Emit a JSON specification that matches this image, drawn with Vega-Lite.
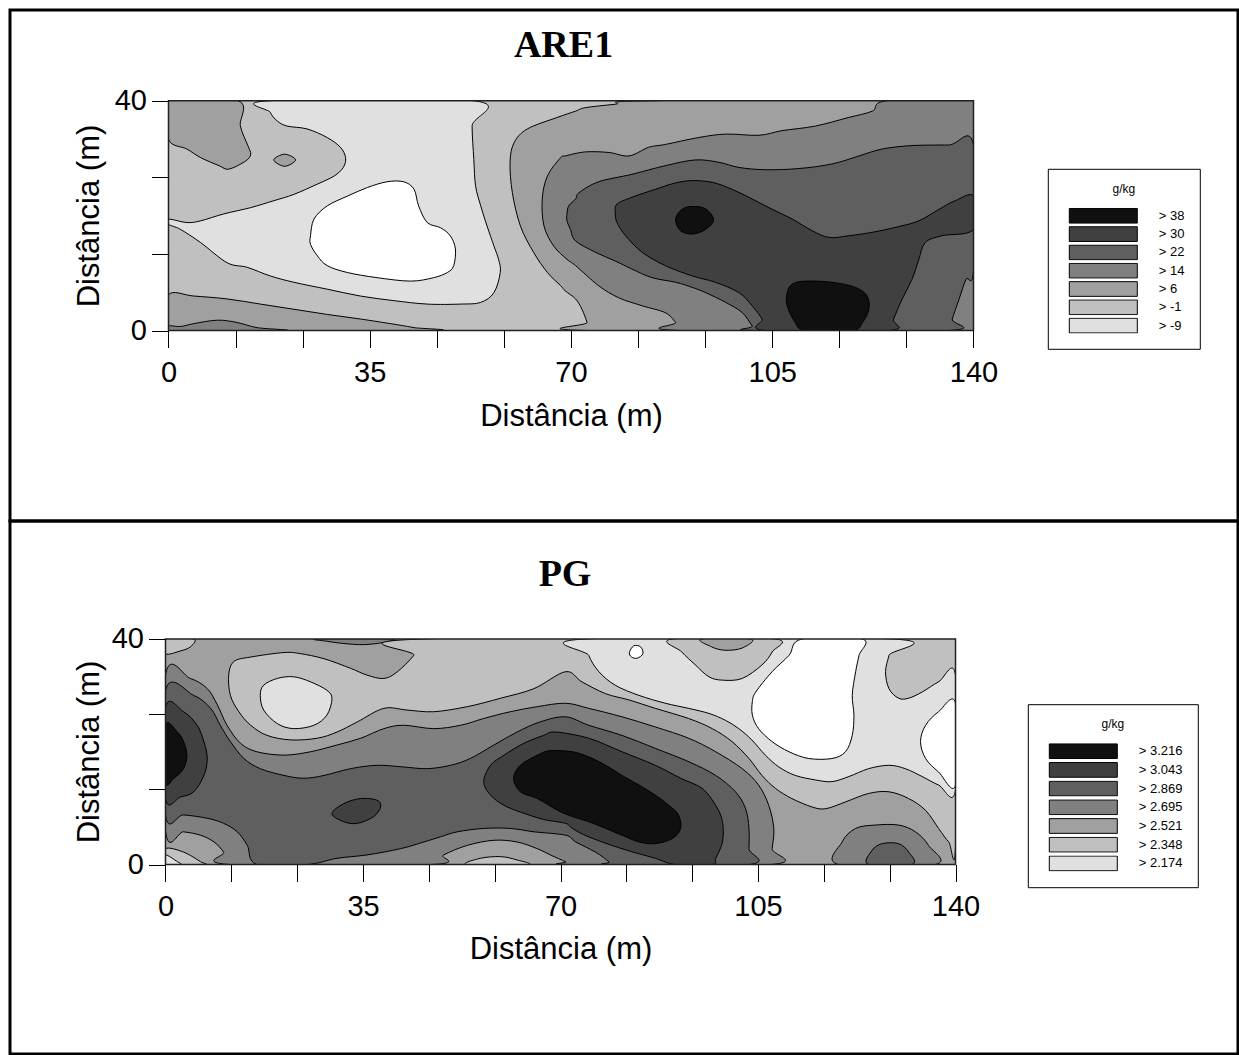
{
"$schema":"https://vega.github.io/schema/vega-lite/v6.json",
"background":"white",
"padding":{"left":8,"top":8,"right":0,"bottom":0},
"spacing":0,
"bounds":"flush",
"config":{"font":"Liberation Sans","view":{"stroke":"black","strokeWidth":3},"axis":{"zindex":1}},
"resolve":{"scale":{"x":"independent","y":"independent","fill":"independent"},"legend":{"fill":"independent"},"axis":{"x":"independent","y":"independent"}},
"datasets":{
"alev":[{"p":"a01","l":"> 6"},{"p":"a02","l":"> 6"},{"p":"a03","l":"> -9"},{"p":"a04","l":"> 6"},{"p":"a05","l":"> 14"},{"p":"a06","l":"> 22"},{"p":"a07","l":"> 30"},{"p":"a08","l":"> 38"},{"p":"a09","l":"> 38"},{"p":"a10","l":"> 6"},{"p":"a11","l":"> 14"},{"p":"a12","l":"w"}],
"blev":[{"p":"b01","l":"> 2.348"},{"p":"b02","l":"> 2.695"},{"p":"b03","l":"> 2.348"},{"p":"b04","l":"> 2.174"},{"p":"b05","l":"> 2.174"},{"p":"b06","l":"> 2.348"},{"p":"b07","l":"> 2.521"},{"p":"b08","l":"> 2.695"},{"p":"b09","l":"> 2.869"},{"p":"b10","l":"> 3.043"},{"p":"b11","l":"> 3.216"},{"p":"b12","l":"> 3.043"},{"p":"b13","l":"> 3.043"},{"p":"b14","l":"> 3.216"},{"p":"b15","l":"> 2.695"},{"p":"b16","l":"> 2.869"},{"p":"b17","l":"> 2.348"},{"p":"b18","l":"> 2.174"},{"p":"b19","l":"> 2.348"},{"p":"b20","l":"w"},{"p":"b21","l":"w"},{"p":"b22","l":"w"}],
"are1":[
{"p":"a01","x":0,"y":40},{"p":"a01","x":12.1,"y":40},{"p":"a01","x":12.5,"y":35.6},{"p":"a01","x":13.8,"y":32.2},{"p":"a01","x":14.3,"y":30.7},{"p":"a01","x":13.4,"y":29.5},{"p":"a01","x":10.5,"y":28.1},{"p":"a01","x":8.8,"y":28.7},{"p":"a01","x":5.6,"y":30.1},{"p":"a01","x":3.2,"y":31.6},{"p":"a01","x":0,"y":33.3},
{"p":"a02","x":18.3,"y":29.7},{"p":"a02","x":20.2,"y":30.7},{"p":"a02","x":22.1,"y":29.7},{"p":"a02","x":20.2,"y":28.6},
{"p":"a03","x":17.4,"y":40},{"p":"a03","x":17.7,"y":38.0},{"p":"a03","x":18.9,"y":36.5},{"p":"a03","x":20.6,"y":35.6},{"p":"a03","x":24.1,"y":35.1},{"p":"a03","x":27.6,"y":33.6},{"p":"a03","x":29.9,"y":31.9},{"p":"a03","x":30.8,"y":30.1},{"p":"a03","x":30.4,"y":28.4},{"p":"a03","x":28.8,"y":26.9},{"p":"a03","x":25.9,"y":25.5},{"p":"a03","x":21.8,"y":23.7},{"p":"a03","x":18.3,"y":22.6},{"p":"a03","x":14.3,"y":21.4},{"p":"a03","x":9.6,"y":20.3},{"p":"a03","x":5.6,"y":19.1},{"p":"a03","x":3.2,"y":18.8},{"p":"a03","x":0,"y":19.4},{"p":"a03","x":0,"y":18.5},{"p":"a03","x":2.1,"y":17.6},{"p":"a03","x":5.6,"y":15.3},{"p":"a03","x":10.2,"y":11.8},{"p":"a03","x":13.7,"y":11.0},{"p":"a03","x":17.7,"y":9.5},{"p":"a03","x":21.8,"y":8.4},{"p":"a03","x":27.6,"y":7.2},{"p":"a03","x":33.4,"y":6.0},{"p":"a03","x":39.2,"y":5.2},{"p":"a03","x":45.0,"y":4.6},{"p":"a03","x":50.8,"y":4.6},{"p":"a03","x":54.3,"y":4.9},{"p":"a03","x":56.6,"y":6.6},{"p":"a03","x":57.7,"y":10.1},{"p":"a03","x":57.4,"y":12.4},{"p":"a03","x":56.6,"y":14.7},{"p":"a03","x":55.4,"y":18.2},{"p":"a03","x":54.3,"y":21.7},{"p":"a03","x":53.4,"y":25.2},{"p":"a03","x":53.1,"y":29.8},{"p":"a03","x":52.8,"y":35.6},{"p":"a03","x":53.1,"y":40},
{"p":"a04","x":84.1,"y":40},{"p":"a04","x":140,"y":40},{"p":"a04","x":140,"y":0},{"p":"a04","x":73.1,"y":0},{"p":"a04","x":72.8,"y":1.4},{"p":"a04","x":71.9,"y":3.7},{"p":"a04","x":70.8,"y":5.5},{"p":"a04","x":69.0,"y":6.9},{"p":"a04","x":68.2,"y":7.8},{"p":"a04","x":65.9,"y":10.1},{"p":"a04","x":63.5,"y":13.6},{"p":"a04","x":61.2,"y":18.2},{"p":"a04","x":59.8,"y":24.0},{"p":"a04","x":59.4,"y":29.3},{"p":"a04","x":60.1,"y":32.7},{"p":"a04","x":62.4,"y":35.1},{"p":"a04","x":67.6,"y":37.1},{"p":"a04","x":70.8,"y":38.2},{"p":"a04","x":72.5,"y":38.8},{"p":"a04","x":77.7,"y":39.4},
{"p":"a05","x":125.0,"y":40},{"p":"a05","x":122.4,"y":38.2},{"p":"a05","x":118.3,"y":37.1},{"p":"a05","x":112.5,"y":35.6},{"p":"a05","x":106.7,"y":34.8},{"p":"a05","x":102.7,"y":34.0},{"p":"a05","x":96.9,"y":34.2},{"p":"a05","x":92.2,"y":33.6},{"p":"a05","x":86.4,"y":32.4},{"p":"a05","x":83.5,"y":31.9},{"p":"a05","x":80.1,"y":30.4},{"p":"a05","x":76.6,"y":31.0},{"p":"a05","x":72.5,"y":31.1},{"p":"a05","x":69.0,"y":30.4},{"p":"a05","x":68.2,"y":30.1},{"p":"a05","x":65.9,"y":26.9},{"p":"a05","x":65.0,"y":22.9},{"p":"a05","x":65.3,"y":18.2},{"p":"a05","x":67.0,"y":14.7},{"p":"a05","x":69.3,"y":12.4},{"p":"a05","x":70.8,"y":11.3},{"p":"a05","x":74.8,"y":7.8},{"p":"a05","x":78.3,"y":5.7},{"p":"a05","x":82.4,"y":4.3},{"p":"a05","x":86.4,"y":3.1},{"p":"a05","x":88.2,"y":1.4},{"p":"a05","x":89.3,"y":0},{"p":"a05","x":140,"y":0},{"p":"a05","x":140,"y":40},
{"p":"a06","x":69.3,"y":20.3},{"p":"a06","x":69.6,"y":21.7},{"p":"a06","x":70.8,"y":22.9},{"p":"a06","x":71.4,"y":24.0},{"p":"a06","x":74.8,"y":25.9},{"p":"a06","x":80.6,"y":27.2},{"p":"a06","x":86.4,"y":28.7},{"p":"a06","x":91.6,"y":29.7},{"p":"a06","x":95.7,"y":29.3},{"p":"a06","x":99.2,"y":28.4},{"p":"a06","x":103.8,"y":28.0},{"p":"a06","x":109.6,"y":28.2},{"p":"a06","x":115.4,"y":29.0},{"p":"a06","x":120.1,"y":30.4},{"p":"a06","x":124.1,"y":31.6},{"p":"a06","x":129.3,"y":32.2},{"p":"a06","x":135.7,"y":32.3},{"p":"a06","x":140,"y":32.3},{"p":"a06","x":140,"y":10.7},{"p":"a06","x":138.7,"y":8.9},{"p":"a06","x":137.5,"y":5.5},{"p":"a06","x":136.3,"y":2.0},{"p":"a06","x":135.7,"y":0},{"p":"a06","x":102.1,"y":0},{"p":"a06","x":101.5,"y":0.8},{"p":"a06","x":99.8,"y":3.1},{"p":"a06","x":96.9,"y":4.9},{"p":"a06","x":93.4,"y":6.6},{"p":"a06","x":91.1,"y":7.5},{"p":"a06","x":88.2,"y":8.4},{"p":"a06","x":84.1,"y":9.2},{"p":"a06","x":80.6,"y":10.7},{"p":"a06","x":77.7,"y":12.1},{"p":"a06","x":74.3,"y":13.6},{"p":"a06","x":70.8,"y":15.6},{"p":"a06","x":69.9,"y":17.6},{"p":"a06","x":69.3,"y":19.1},
{"p":"a07","x":77.7,"y":20.5},{"p":"a07","x":78.0,"y":22.0},{"p":"a07","x":80.6,"y":23.2},{"p":"a07","x":84.7,"y":24.6},{"p":"a07","x":88.2,"y":25.7},{"p":"a07","x":91.1,"y":26.1},{"p":"a07","x":94.6,"y":25.8},{"p":"a07","x":98.0,"y":24.6},{"p":"a07","x":101.5,"y":22.9},{"p":"a07","x":105.0,"y":21.1},{"p":"a07","x":108.5,"y":19.4},{"p":"a07","x":111.9,"y":17.4},{"p":"a07","x":114.9,"y":16.2},{"p":"a07","x":118.3,"y":16.5},{"p":"a07","x":122.4,"y":17.1},{"p":"a07","x":127.0,"y":18.1},{"p":"a07","x":130.5,"y":19.1},{"p":"a07","x":134.0,"y":21.1},{"p":"a07","x":136.8,"y":22.6},{"p":"a07","x":140,"y":23.4},{"p":"a07","x":140,"y":17.6},{"p":"a07","x":134.5,"y":16.5},{"p":"a07","x":131.6,"y":15.3},{"p":"a07","x":130.5,"y":12.4},{"p":"a07","x":129.3,"y":8.9},{"p":"a07","x":127.6,"y":5.5},{"p":"a07","x":126.1,"y":2.0},{"p":"a07","x":125.3,"y":0},{"p":"a07","x":103.8,"y":0},{"p":"a07","x":103.2,"y":2.0},{"p":"a07","x":101.5,"y":4.3},{"p":"a07","x":99.2,"y":6.6},{"p":"a07","x":95.1,"y":8.4},{"p":"a07","x":91.1,"y":9.5},{"p":"a07","x":86.4,"y":11.3},{"p":"a07","x":82.4,"y":13.6},{"p":"a07","x":79.5,"y":16.5},{"p":"a07","x":78.0,"y":18.8},
{"p":"a08","x":88.2,"y":19.4},{"p":"a08","x":89.3,"y":21.1},{"p":"a08","x":91.1,"y":21.6},{"p":"a08","x":93.4,"y":21.2},{"p":"a08","x":94.8,"y":19.3},{"p":"a08","x":93.4,"y":17.6},{"p":"a08","x":91.1,"y":16.8},{"p":"a08","x":89.0,"y":17.4},
{"p":"a09","x":107.6,"y":6.6},{"p":"a09","x":108.5,"y":8.1},{"p":"a09","x":110.8,"y":8.6},{"p":"a09","x":115.4,"y":8.4},{"p":"a09","x":119.5,"y":7.5},{"p":"a09","x":121.5,"y":6.0},{"p":"a09","x":121.8,"y":3.7},{"p":"a09","x":120.7,"y":1.4},{"p":"a09","x":118.9,"y":0},{"p":"a09","x":110.8,"y":0},{"p":"a09","x":109.0,"y":1.4},{"p":"a09","x":107.6,"y":4.3},
{"p":"a10","x":0,"y":0},{"p":"a10","x":0,"y":6.2},{"p":"a10","x":4.4,"y":6.0},{"p":"a10","x":10.2,"y":5.5},{"p":"a10","x":16.0,"y":4.6},{"p":"a10","x":21.8,"y":3.7},{"p":"a10","x":27.6,"y":2.8},{"p":"a10","x":33.4,"y":2.0},{"p":"a10","x":39.2,"y":1.1},{"p":"a10","x":42.7,"y":0.5},{"p":"a10","x":45.0,"y":0},
{"p":"a11","x":0,"y":0},{"p":"a11","x":0,"y":0.8},{"p":"a11","x":2.1,"y":0.7},{"p":"a11","x":4.4,"y":1.2},{"p":"a11","x":8.5,"y":1.8},{"p":"a11","x":11.9,"y":1.4},{"p":"a11","x":15.4,"y":0.5},{"p":"a11","x":20.1,"y":0},
{"p":"a12","x":24.7,"y":16.5},{"p":"a12","x":25.3,"y":19.4},{"p":"a12","x":27.6,"y":21.7},{"p":"a12","x":31.1,"y":23.4},{"p":"a12","x":34.6,"y":24.9},{"p":"a12","x":38.0,"y":25.9},{"p":"a12","x":40.9,"y":25.9},{"p":"a12","x":42.7,"y":24.6},{"p":"a12","x":43.5,"y":21.7},{"p":"a12","x":45.0,"y":18.8},{"p":"a12","x":47.3,"y":17.9},{"p":"a12","x":49.0,"y":16.5},{"p":"a12","x":49.9,"y":14.2},{"p":"a12","x":49.6,"y":11.3},{"p":"a12","x":48.5,"y":10.1},{"p":"a12","x":46.1,"y":9.2},{"p":"a12","x":42.1,"y":8.6},{"p":"a12","x":36.3,"y":9.2},{"p":"a12","x":31.1,"y":10.1},{"p":"a12","x":27.6,"y":11.3},{"p":"a12","x":25.9,"y":13.0},{"p":"a12","x":24.7,"y":15.0}
],
"pg":[
{"p":"b01","x":0,"y":40},{"p":"b01","x":0,"y":37.4},{"p":"b01","x":2.7,"y":37.9},{"p":"b01","x":4.4,"y":38.6},{"p":"b01","x":5.0,"y":40},
{"p":"b02","x":26.9,"y":40},{"p":"b02","x":28.6,"y":39.6},{"p":"b02","x":31.6,"y":39.2},{"p":"b02","x":35.1,"y":39.0},{"p":"b02","x":38.7,"y":39.4},{"p":"b02","x":39.9,"y":40},
{"p":"b03","x":45.8,"y":40},{"p":"b03","x":140,"y":40},{"p":"b03","x":140,"y":3.4},{"p":"b03","x":138.8,"y":4.0},{"p":"b03","x":137.0,"y":6.4},{"p":"b03","x":134.7,"y":9.6},{"p":"b03","x":131.7,"y":11.7},{"p":"b03","x":128.2,"y":12.9},{"p":"b03","x":124.6,"y":12.6},{"p":"b03","x":120.5,"y":11.1},{"p":"b03","x":117.0,"y":9.9},{"p":"b03","x":114.6,"y":10.2},{"p":"b03","x":111.0,"y":11.7},{"p":"b03","x":108.1,"y":13.5},{"p":"b03","x":105.7,"y":15.8},{"p":"b03","x":103.4,"y":18.8},{"p":"b03","x":100.4,"y":21.8},{"p":"b03","x":96.9,"y":24.1},{"p":"b03","x":92.7,"y":25.9},{"p":"b03","x":86.8,"y":27.7},{"p":"b03","x":82.1,"y":29.2},{"p":"b03","x":78.0,"y":30.3},{"p":"b03","x":73.8,"y":32.4},{"p":"b03","x":70.9,"y":34.2},{"p":"b03","x":65.3,"y":31.2},{"p":"b03","x":59.4,"y":29.5},{"p":"b03","x":53.5,"y":28.0},{"p":"b03","x":47.5,"y":27.1},{"p":"b03","x":42.8,"y":27.4},{"p":"b03","x":38.7,"y":27.7},{"p":"b03","x":34.0,"y":25.3},{"p":"b03","x":30.4,"y":23.5},{"p":"b03","x":26.9,"y":22.4},{"p":"b03","x":22.2,"y":22.1},{"p":"b03","x":18.0,"y":22.9},{"p":"b03","x":15.1,"y":24.7},{"p":"b03","x":13.0,"y":27.1},{"p":"b03","x":11.5,"y":30.0},{"p":"b03","x":11.2,"y":33.6},{"p":"b03","x":12.1,"y":36.0},{"p":"b03","x":15.1,"y":36.8},{"p":"b03","x":21.0,"y":37.6},{"p":"b03","x":23.9,"y":37.4},{"p":"b03","x":28.1,"y":36.5},{"p":"b03","x":32.8,"y":34.8},{"p":"b03","x":35.7,"y":33.6},{"p":"b03","x":38.7,"y":33.0},{"p":"b03","x":41.1,"y":34.2},{"p":"b03","x":44.0,"y":37.1},
{"p":"b04","x":16.8,"y":30.0},{"p":"b04","x":17.4,"y":31.8},{"p":"b04","x":19.8,"y":33.0},{"p":"b04","x":22.7,"y":33.3},{"p":"b04","x":25.7,"y":32.4},{"p":"b04","x":28.6,"y":30.9},{"p":"b04","x":29.5,"y":29.4},{"p":"b04","x":28.6,"y":26.5},{"p":"b04","x":26.3,"y":24.7},{"p":"b04","x":22.7,"y":24.1},{"p":"b04","x":19.8,"y":25.0},{"p":"b04","x":17.4,"y":27.4},
{"p":"b05","x":74.4,"y":40},{"p":"b05","x":128.8,"y":40},{"p":"b05","x":128.2,"y":37.1},{"p":"b05","x":127.6,"y":34.2},{"p":"b05","x":128.2,"y":31.2},{"p":"b05","x":129.9,"y":29.5},{"p":"b05","x":131.7,"y":29.5},{"p":"b05","x":134.1,"y":30.6},{"p":"b05","x":137.0,"y":32.4},{"p":"b05","x":140,"y":33.6},{"p":"b05","x":140,"y":13.2},{"p":"b05","x":137.0,"y":14.1},{"p":"b05","x":134.1,"y":15.6},{"p":"b05","x":131.1,"y":17.0},{"p":"b05","x":128.2,"y":17.6},{"p":"b05","x":124.6,"y":17.0},{"p":"b05","x":121.1,"y":15.6},{"p":"b05","x":118.1,"y":14.7},{"p":"b05","x":115.2,"y":15.0},{"p":"b05","x":111.6,"y":15.8},{"p":"b05","x":108.7,"y":17.3},{"p":"b05","x":106.3,"y":19.4},{"p":"b05","x":103.9,"y":22.1},{"p":"b05","x":101.6,"y":24.1},{"p":"b05","x":99.2,"y":25.6},{"p":"b05","x":96.3,"y":26.8},{"p":"b05","x":92.7,"y":27.7},{"p":"b05","x":88.6,"y":28.6},{"p":"b05","x":83.9,"y":30.0},{"p":"b05","x":79.7,"y":31.8},{"p":"b05","x":76.8,"y":34.2},{"p":"b05","x":75.0,"y":37.1},
{"p":"b06","x":89.8,"y":40},{"p":"b06","x":91.5,"y":37.7},{"p":"b06","x":93.9,"y":35.4},{"p":"b06","x":96.3,"y":33.3},{"p":"b06","x":98.7,"y":32.7},{"p":"b06","x":102.2,"y":33.0},{"p":"b06","x":105.7,"y":35.4},{"p":"b06","x":107.5,"y":37.7},{"p":"b06","x":108.1,"y":40},
{"p":"b07","x":95.0,"y":40},{"p":"b07","x":96.8,"y":38.6},{"p":"b07","x":99.2,"y":38.0},{"p":"b07","x":102.2,"y":38.4},{"p":"b07","x":103.7,"y":40},
{"p":"b08","x":0,"y":33.6},{"p":"b08","x":0,"y":6.0},{"p":"b08","x":3.2,"y":5.8},{"p":"b08","x":6.2,"y":5.2},{"p":"b08","x":8.6,"y":4.0},{"p":"b08","x":10.3,"y":2.2},{"p":"b08","x":11.5,"y":0},{"p":"b08","x":47.0,"y":0},{"p":"b08","x":49.3,"y":1.7},{"p":"b08","x":53.5,"y":3.4},{"p":"b08","x":58.2,"y":4.3},{"p":"b08","x":62.3,"y":4.0},{"p":"b08","x":65.9,"y":2.8},{"p":"b08","x":68.2,"y":1.7},{"p":"b08","x":70.9,"y":0.5},{"p":"b08","x":72.1,"y":0},{"p":"b08","x":107.2,"y":0},{"p":"b08","x":107.5,"y":2.8},{"p":"b08","x":107.8,"y":6.4},{"p":"b08","x":106.9,"y":10.5},{"p":"b08","x":105.1,"y":14.1},{"p":"b08","x":102.2,"y":17.0},{"p":"b08","x":97.5,"y":20.0},{"p":"b08","x":92.7,"y":22.4},{"p":"b08","x":86.8,"y":24.4},{"p":"b08","x":80.9,"y":26.2},{"p":"b08","x":75.0,"y":27.7},{"p":"b08","x":70.9,"y":28.6},{"p":"b08","x":65.9,"y":28.0},{"p":"b08","x":61.1,"y":27.1},{"p":"b08","x":56.4,"y":25.9},{"p":"b08","x":52.3,"y":24.7},{"p":"b08","x":47.5,"y":24.1},{"p":"b08","x":42.2,"y":24.7},{"p":"b08","x":38.7,"y":24.1},{"p":"b08","x":34.6,"y":22.4},{"p":"b08","x":30.4,"y":21.2},{"p":"b08","x":25.7,"y":20.0},{"p":"b08","x":21.0,"y":19.4},{"p":"b08","x":16.2,"y":20.0},{"p":"b08","x":13.3,"y":21.5},{"p":"b08","x":10.9,"y":24.7},{"p":"b08","x":9.2,"y":28.3},{"p":"b08","x":7.4,"y":31.2},{"p":"b08","x":4.4,"y":33.0},
{"p":"b09","x":0,"y":30.9},{"p":"b09","x":0,"y":8.8},{"p":"b09","x":3.2,"y":8.8},{"p":"b09","x":7.4,"y":8.2},{"p":"b09","x":10.3,"y":7.3},{"p":"b09","x":12.7,"y":5.8},{"p":"b09","x":14.5,"y":3.4},{"p":"b09","x":16.2,"y":0},{"p":"b09","x":25.1,"y":0},{"p":"b09","x":30.4,"y":1.1},{"p":"b09","x":35.7,"y":1.7},{"p":"b09","x":41.6,"y":2.8},{"p":"b09","x":45.8,"y":4.0},{"p":"b09","x":48.7,"y":4.9},{"p":"b09","x":51.7,"y":5.8},{"p":"b09","x":56.4,"y":6.4},{"p":"b09","x":61.1,"y":6.4},{"p":"b09","x":65.3,"y":5.8},{"p":"b09","x":70.9,"y":5.2},{"p":"b09","x":72.7,"y":4.0},{"p":"b09","x":76.2,"y":2.2},{"p":"b09","x":78.6,"y":0.5},{"p":"b09","x":79.1,"y":0},{"p":"b09","x":103.4,"y":0},{"p":"b09","x":103.4,"y":2.8},{"p":"b09","x":103.4,"y":6.4},{"p":"b09","x":102.8,"y":9.9},{"p":"b09","x":101.0,"y":12.9},{"p":"b09","x":97.5,"y":15.8},{"p":"b09","x":92.8,"y":18.2},{"p":"b09","x":86.8,"y":20.6},{"p":"b09","x":80.9,"y":22.9},{"p":"b09","x":75.0,"y":24.7},{"p":"b09","x":70.9,"y":26.2},{"p":"b09","x":66.4,"y":25.3},{"p":"b09","x":62.3,"y":23.5},{"p":"b09","x":58.2,"y":21.2},{"p":"b09","x":54.0,"y":18.8},{"p":"b09","x":50.5,"y":17.6},{"p":"b09","x":46.4,"y":17.0},{"p":"b09","x":42.2,"y":17.3},{"p":"b09","x":37.5,"y":17.6},{"p":"b09","x":32.8,"y":17.0},{"p":"b09","x":28.1,"y":15.8},{"p":"b09","x":24.5,"y":15.3},{"p":"b09","x":21.0,"y":15.8},{"p":"b09","x":16.8,"y":17.0},{"p":"b09","x":13.9,"y":18.8},{"p":"b09","x":11.5,"y":21.8},{"p":"b09","x":9.7,"y":24.7},{"p":"b09","x":8.0,"y":27.7},{"p":"b09","x":5.0,"y":30.0},
{"p":"b10","x":0,"y":27.9},{"p":"b10","x":3.2,"y":27.1},{"p":"b10","x":5.6,"y":24.7},{"p":"b10","x":6.8,"y":21.8},{"p":"b10","x":7.4,"y":18.8},{"p":"b10","x":6.8,"y":15.8},{"p":"b10","x":5.0,"y":12.9},{"p":"b10","x":2.7,"y":12.0},{"p":"b10","x":0,"y":11.7},
{"p":"b11","x":0,"y":24.7},{"p":"b11","x":2.1,"y":23.5},{"p":"b11","x":3.2,"y":21.8},{"p":"b11","x":3.8,"y":19.4},{"p":"b11","x":3.2,"y":17.0},{"p":"b11","x":1.5,"y":15.3},{"p":"b11","x":0,"y":14.7},
{"p":"b12","x":29.5,"y":9.0},{"p":"b12","x":31.6,"y":10.8},{"p":"b12","x":34.6,"y":11.7},{"p":"b12","x":37.5,"y":11.4},{"p":"b12","x":38.1,"y":10.2},{"p":"b12","x":36.9,"y":8.5},{"p":"b12","x":34.0,"y":7.3},{"p":"b12","x":31.6,"y":7.6},
{"p":"b13","x":56.4,"y":14.7},{"p":"b13","x":57.6,"y":17.6},{"p":"b13","x":60.0,"y":19.4},{"p":"b13","x":63.5,"y":21.5},{"p":"b13","x":67.0,"y":22.9},{"p":"b13","x":69.1,"y":23.5},{"p":"b13","x":75.0,"y":22.4},{"p":"b13","x":80.9,"y":20.0},{"p":"b13","x":86.8,"y":17.6},{"p":"b13","x":91.3,"y":15.3},{"p":"b13","x":95.1,"y":13.5},{"p":"b13","x":97.5,"y":10.5},{"p":"b13","x":98.7,"y":7.6},{"p":"b13","x":98.7,"y":4.0},{"p":"b13","x":97.5,"y":1.1},{"p":"b13","x":96.9,"y":0},{"p":"b13","x":90.4,"y":0},{"p":"b13","x":86.8,"y":1.1},{"p":"b13","x":80.9,"y":2.8},{"p":"b13","x":75.0,"y":4.9},{"p":"b13","x":72.1,"y":6.4},{"p":"b13","x":70.9,"y":7.3},{"p":"b13","x":67.0,"y":8.0},{"p":"b13","x":62.9,"y":9.3},{"p":"b13","x":60.0,"y":10.5},{"p":"b13","x":57.6,"y":12.3},
{"p":"b14","x":61.7,"y":15.3},{"p":"b14","x":62.9,"y":17.6},{"p":"b14","x":65.9,"y":19.4},{"p":"b14","x":68.2,"y":20.2},{"p":"b14","x":72.1,"y":20.0},{"p":"b14","x":75.0,"y":19.1},{"p":"b14","x":78.0,"y":17.6},{"p":"b14","x":80.9,"y":15.8},{"p":"b14","x":83.9,"y":14.1},{"p":"b14","x":86.8,"y":12.3},{"p":"b14","x":89.2,"y":10.5},{"p":"b14","x":90.9,"y":8.8},{"p":"b14","x":91.3,"y":6.4},{"p":"b14","x":89.8,"y":4.6},{"p":"b14","x":86.8,"y":3.7},{"p":"b14","x":83.9,"y":4.0},{"p":"b14","x":80.9,"y":5.2},{"p":"b14","x":78.0,"y":6.4},{"p":"b14","x":75.0,"y":7.6},{"p":"b14","x":72.1,"y":8.5},{"p":"b14","x":69.5,"y":9.6},{"p":"b14","x":65.9,"y":11.7},{"p":"b14","x":62.9,"y":12.9},
{"p":"b15","x":119.3,"y":0},{"p":"b15","x":119.9,"y":4.0},{"p":"b15","x":122.3,"y":6.4},{"p":"b15","x":125.8,"y":7.0},{"p":"b15","x":129.9,"y":7.0},{"p":"b15","x":132.9,"y":5.8},{"p":"b15","x":135.2,"y":3.4},{"p":"b15","x":136.4,"y":0},
{"p":"b16","x":124.6,"y":0},{"p":"b16","x":125.2,"y":2.5},{"p":"b16","x":127.0,"y":3.7},{"p":"b16","x":129.9,"y":3.7},{"p":"b16","x":131.7,"y":2.2},{"p":"b16","x":132.3,"y":0},
{"p":"b17","x":0,"y":0},{"p":"b17","x":0,"y":2.8},{"p":"b17","x":3.2,"y":2.2},{"p":"b17","x":6.2,"y":0.5},{"p":"b17","x":6.8,"y":0},
{"p":"b18","x":0,"y":0},{"p":"b18","x":0,"y":1.7},{"p":"b18","x":2.1,"y":0.5},{"p":"b18","x":2.7,"y":0},
{"p":"b19","x":53.5,"y":0},{"p":"b19","x":55.8,"y":1.1},{"p":"b19","x":59.4,"y":1.4},{"p":"b19","x":62.3,"y":0.8},{"p":"b19","x":64.1,"y":0},
{"p":"b20","x":82.2,"y":37.6},{"p":"b20","x":83.0,"y":38.8},{"p":"b20","x":84.2,"y":38.6},{"p":"b20","x":84.6,"y":37.4},{"p":"b20","x":83.6,"y":36.6},{"p":"b20","x":82.6,"y":36.8},
{"p":"b21","x":112.8,"y":40},{"p":"b21","x":110.5,"y":37.1},{"p":"b21","x":107.5,"y":34.2},{"p":"b21","x":104.6,"y":30.6},{"p":"b21","x":104.0,"y":28.9},{"p":"b21","x":104.0,"y":26.5},{"p":"b21","x":105.1,"y":24.1},{"p":"b21","x":107.5,"y":21.8},{"p":"b21","x":110.5,"y":20.0},{"p":"b21","x":114.0,"y":18.8},{"p":"b21","x":118.1,"y":18.8},{"p":"b21","x":120.5,"y":20.0},{"p":"b21","x":121.7,"y":22.9},{"p":"b21","x":122.0,"y":26.5},{"p":"b21","x":121.7,"y":30.0},{"p":"b21","x":122.3,"y":34.2},{"p":"b21","x":122.9,"y":37.1},{"p":"b21","x":123.5,"y":40},
{"p":"b22","x":140,"y":28.6},{"p":"b22","x":137.0,"y":27.1},{"p":"b22","x":134.7,"y":24.7},{"p":"b22","x":133.8,"y":21.8},{"p":"b22","x":134.7,"y":18.8},{"p":"b22","x":137.0,"y":16.4},{"p":"b22","x":140,"y":14.1}
]
},
"vconcat":[
{
"width":1228,"height":511,
"layer":[
{"data":{"values":[{}]},"mark":{"type":"rect","fill":"#c0c0c0"},"encoding":{"x":{"datum":0,"type":"quantitative","scale":{"domain":[-27.565,186.0],"nice":false,"zero":false}},"x2":{"datum":140},"y":{"datum":0,"type":"quantitative","scale":{"domain":[-33.17,55.81],"nice":false,"zero":false}},"y2":{"datum":40}}},
{"data":{"name":"are1"},
"transform":[{"lookup":"p","from":{"data":{"name":"alev"},"key":"p","fields":["l"]}}],
"mark":{"type":"line","interpolate":"cardinal-closed","stroke":"black","strokeWidth":1},
"encoding":{
"x":{"field":"x","type":"quantitative","scale":{"domain":[-27.565,186.0],"nice":false,"zero":false},"axis":{"orient":"bottom","offset":-190.5,"zindex":2,"domain":false,"grid":false,"values":[0,11.6667,23.3333,35,46.6667,58.3333,70,81.6667,93.3333,105,116.6667,128.3333,140],"labelExpr":"datum.value % 35 == 0 ? datum.label : ''","tickSize":17,"tickColor":"black","tickWidth":1,"labelFont":"Liberation Sans","labelFontSize":29,"labelColor":"black","labelPadding":11,"title":"Distância (m)","titleFont":"Liberation Sans","titleFontSize":31,"titleFontWeight":"normal","titleColor":"black","titleX":561,"titleY":86,"titleBaseline":"middle"}},
"y":{"field":"y","type":"quantitative","scale":{"domain":[-33.17,55.81],"nice":false,"zero":false},"axis":{"orient":"left","offset":-158.5,"zindex":2,"domain":false,"grid":false,"values":[0,13.3333,26.6667,40],"labelExpr":"datum.value == 0 || datum.value == 40 ? datum.label : ''","tickSize":17,"tickColor":"black","tickWidth":1,"labelFont":"Liberation Sans","labelFontSize":29,"labelColor":"black","labelPadding":5,"title":"Distância (m)","titleFont":"Liberation Sans","titleFontSize":31,"titleFontWeight":"normal","titleColor":"black","titleX":-79,"titleY":205.5,"titleBaseline":"middle","titleAngle":-90}},
"detail":{"field":"p"},
"order":{"value":null},
"fill":{"field":"l","type":"nominal","scale":{"domain":["> 38","> 30","> 22","> 14","> 6","> -1","> -9","w"],"range":["#101010","#404040","#5f5f5f","#808080","#a0a0a0","#c0c0c0","#e0e0e0","#ffffff"]},"legend":{"orient":"none","legendX":1037.8,"legendY":158.8,"values":["> 38","> 30","> 22","> 14","> 6","> -1","> -9"],"title":"g/kg","titleAnchor":"middle","titleFont":"Liberation Sans","titleFontSize":12,"titleFontWeight":"normal","titleColor":"black","titlePadding":12,"labelFont":"Liberation Sans","labelFontSize":13,"labelColor":"black","labelOffset":21,"symbolOffset":6,"symbolType":"M-1,-0.216H1V0.216H-1Z","symbolSize":4624,"clipHeight":16,"symbolStrokeColor":"black","symbolStrokeWidth":1,"symbolOpacity":1,"rowPadding":2.3,"strokeColor":"black","padding":15}}
}},
{"data":{"values":[{}]},"mark":{"type":"rect","fill":"white"},"encoding":{"x":{"datum":-12,"type":"quantitative","scale":{"domain":[-27.565,186.0],"nice":false,"zero":false}},"x2":{"datum":0},"y":{"datum":-12,"type":"quantitative","scale":{"domain":[-33.17,55.81],"nice":false,"zero":false}},"y2":{"datum":52}}},
{"data":{"values":[{}]},"mark":{"type":"rect","fill":"white"},"encoding":{"x":{"datum":140,"type":"quantitative","scale":{"domain":[-27.565,186.0],"nice":false,"zero":false}},"x2":{"datum":152},"y":{"datum":-12,"type":"quantitative","scale":{"domain":[-33.17,55.81],"nice":false,"zero":false}},"y2":{"datum":52}}},
{"data":{"values":[{}]},"mark":{"type":"rect","fill":"white"},"encoding":{"x":{"datum":-12,"type":"quantitative","scale":{"domain":[-27.565,186.0],"nice":false,"zero":false}},"x2":{"datum":152},"y":{"datum":40,"type":"quantitative","scale":{"domain":[-33.17,55.81],"nice":false,"zero":false}},"y2":{"datum":52}}},
{"data":{"values":[{}]},"mark":{"type":"rect","fill":"white"},"encoding":{"x":{"datum":-12,"type":"quantitative","scale":{"domain":[-27.565,186.0],"nice":false,"zero":false}},"x2":{"datum":152},"y":{"datum":-12,"type":"quantitative","scale":{"domain":[-33.17,55.81],"nice":false,"zero":false}},"y2":{"datum":0}}},
{"data":{"values":[{}]},"mark":{"type":"rect","filled":false,"stroke":"#202020","strokeWidth":1.5},"encoding":{"x":{"datum":0,"type":"quantitative","scale":{"domain":[-27.565,186.0],"nice":false,"zero":false}},"x2":{"datum":140},"y":{"datum":0,"type":"quantitative","scale":{"domain":[-33.17,55.81],"nice":false,"zero":false}},"y2":{"datum":40}}},
{"data":{"values":[{}]},"mark":{"type":"text","font":"Liberation Serif","fontSize":38,"fontWeight":"bold","align":"center","baseline":"middle","color":"black"},"encoding":{"x":{"datum":68.7,"type":"quantitative","scale":{"domain":[-27.565,186.0],"nice":false,"zero":false}},"y":{"datum":49.6,"type":"quantitative","scale":{"domain":[-33.17,55.81],"nice":false,"zero":false}},"text":{"value":"ARE1"}}}
]
},
{
"width":1228,"height":533,
"layer":[
{"data":{"values":[{}]},"mark":{"type":"rect","fill":"#a0a0a0"},"encoding":{"x":{"datum":0,"type":"quantitative","scale":{"domain":[-27.556,190.06],"nice":false,"zero":false}},"x2":{"datum":140},"y":{"datum":0,"type":"quantitative","scale":{"domain":[-33.61,60.93],"nice":false,"zero":false}},"y2":{"datum":40}}},
{"data":{"name":"pg"},
"transform":[{"lookup":"p","from":{"data":{"name":"blev"},"key":"p","fields":["l"]}}],
"mark":{"type":"line","interpolate":"cardinal-closed","stroke":"black","strokeWidth":1},
"encoding":{
"x":{"field":"x","type":"quantitative","scale":{"domain":[-27.556,190.06],"nice":false,"zero":false},"axis":{"orient":"bottom","offset":-189.5,"zindex":2,"domain":false,"grid":false,"values":[0,11.6667,23.3333,35,46.6667,58.3333,70,81.6667,93.3333,105,116.6667,128.3333,140],"labelExpr":"datum.value % 35 == 0 ? datum.label : ''","tickSize":17,"tickColor":"black","tickWidth":1,"labelFont":"Liberation Sans","labelFontSize":29,"labelColor":"black","labelPadding":11,"title":"Distância (m)","titleFont":"Liberation Sans","titleFontSize":31,"titleFontWeight":"normal","titleColor":"black","titleX":550.5,"titleY":85,"titleBaseline":"middle"}},
"y":{"field":"y","type":"quantitative","scale":{"domain":[-33.61,60.93],"nice":false,"zero":false},"axis":{"orient":"left","offset":-155.5,"zindex":2,"domain":false,"grid":false,"values":[0,13.3333,26.6667,40],"labelExpr":"datum.value == 0 || datum.value == 40 ? datum.label : ''","tickSize":17,"tickColor":"black","tickWidth":1,"labelFont":"Liberation Sans","labelFontSize":29,"labelColor":"black","labelPadding":5,"title":"Distância (m)","titleFont":"Liberation Sans","titleFontSize":31,"titleFontWeight":"normal","titleColor":"black","titleX":-76,"titleY":230.5,"titleBaseline":"middle","titleAngle":-90}},
"detail":{"field":"p"},
"order":{"value":null},
"fill":{"field":"l","type":"nominal","scale":{"domain":["> 3.216","> 3.043","> 2.869","> 2.695","> 2.521","> 2.348","> 2.174","w"],"range":["#101010","#404040","#5f5f5f","#808080","#a0a0a0","#c0c0c0","#e0e0e0","#ffffff"]},"legend":{"orient":"none","legendX":1017.8,"legendY":183.2,"values":["> 3.216","> 3.043","> 2.869","> 2.695","> 2.521","> 2.348","> 2.174"],"title":"g/kg","titleAnchor":"middle","titleFont":"Liberation Sans","titleFontSize":12,"titleFontWeight":"normal","titleColor":"black","titlePadding":12,"labelFont":"Liberation Sans","labelFontSize":13,"labelColor":"black","labelOffset":21,"symbolOffset":6,"symbolType":"M-1,-0.216H1V0.216H-1Z","symbolSize":4624,"clipHeight":16,"symbolStrokeColor":"black","symbolStrokeWidth":1,"symbolOpacity":1,"rowPadding":2.7,"strokeColor":"black","padding":15}}
}},
{"data":{"values":[{}]},"mark":{"type":"rect","fill":"white"},"encoding":{"x":{"datum":-12,"type":"quantitative","scale":{"domain":[-27.556,190.06],"nice":false,"zero":false}},"x2":{"datum":0},"y":{"datum":-12,"type":"quantitative","scale":{"domain":[-33.61,60.93],"nice":false,"zero":false}},"y2":{"datum":52}}},
{"data":{"values":[{}]},"mark":{"type":"rect","fill":"white"},"encoding":{"x":{"datum":140,"type":"quantitative","scale":{"domain":[-27.556,190.06],"nice":false,"zero":false}},"x2":{"datum":152},"y":{"datum":-12,"type":"quantitative","scale":{"domain":[-33.61,60.93],"nice":false,"zero":false}},"y2":{"datum":52}}},
{"data":{"values":[{}]},"mark":{"type":"rect","fill":"white"},"encoding":{"x":{"datum":-12,"type":"quantitative","scale":{"domain":[-27.556,190.06],"nice":false,"zero":false}},"x2":{"datum":152},"y":{"datum":40,"type":"quantitative","scale":{"domain":[-33.61,60.93],"nice":false,"zero":false}},"y2":{"datum":52}}},
{"data":{"values":[{}]},"mark":{"type":"rect","fill":"white"},"encoding":{"x":{"datum":-12,"type":"quantitative","scale":{"domain":[-27.556,190.06],"nice":false,"zero":false}},"x2":{"datum":152},"y":{"datum":-12,"type":"quantitative","scale":{"domain":[-33.61,60.93],"nice":false,"zero":false}},"y2":{"datum":0}}},
{"data":{"values":[{}]},"mark":{"type":"rect","filled":false,"stroke":"#202020","strokeWidth":1.5},"encoding":{"x":{"datum":0,"type":"quantitative","scale":{"domain":[-27.556,190.06],"nice":false,"zero":false}},"x2":{"datum":140},"y":{"datum":0,"type":"quantitative","scale":{"domain":[-33.61,60.93],"nice":false,"zero":false}},"y2":{"datum":40}}},
{"data":{"values":[{}]},"mark":{"type":"text","font":"Liberation Serif","fontSize":38,"fontWeight":"bold","align":"center","baseline":"middle","color":"black"},"encoding":{"x":{"datum":70.8,"type":"quantitative","scale":{"domain":[-27.556,190.06],"nice":false,"zero":false}},"y":{"datum":51.3,"type":"quantitative","scale":{"domain":[-33.61,60.93],"nice":false,"zero":false}},"text":{"value":"PG"}}}
]
}
]
}
